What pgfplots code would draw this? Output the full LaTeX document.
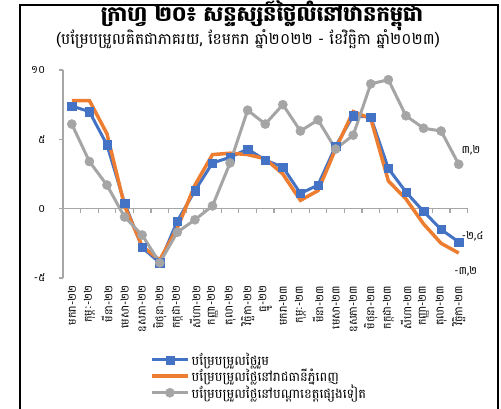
\documentclass[border=0pt]{standalone}
\usepackage{fontspec}
\setmainfont[Script=Khmer]{Battambang}
\usepackage{pgfplots}
\pgfplotsset{compat=1.18}
\definecolor{cblue}{HTML}{4472C4}
\definecolor{corange}{HTML}{ED7D31}
\definecolor{cgray}{HTML}{A5A5A5}
\definecolor{caxis}{HTML}{A6A6A6}
\begin{document}
\begin{tikzpicture}
\useasboundingbox (0pt,0pt) rectangle (501pt,408pt);
\draw[line width=1.6pt] (20pt,-5pt) -- (20pt,403pt) -- (498pt,403pt) -- (498pt,-5pt);
\node[font=\bfseries\fontsize{21}{24}\selectfont] at (262pt,392pt) {ក្រាហ្វ ២០៖ សន្ទស្សន៍ថ្លៃលំនៅឋានកម្ពុជា};
\node[font=\fontsize{15.5}{17}\selectfont] at (248pt,369pt) {(បម្រែបម្រួលគិតជាភាគរយ, ខែមករា ឆ្នាំ២០២២ - ខែវិច្ឆិកា ឆ្នាំ២០២៣)};
\begin{axis}[at={(63pt,130pt)}, anchor=south west, scale only axis,
  width=404.5pt, height=208pt,
  xmin=-0.5, xmax=22.5, ymin=-5, ymax=10,
  axis x line*=bottom, axis y line*=left,
  x axis line style={draw=none},
  y axis line style={draw=caxis, line width=1.2pt, -},
  ytick={-5,0,5,10}, yticklabels={-៥,០,៥,១០},
  y tick style={draw=caxis, line width=1.2pt},
  tick align=outside, major tick length=4pt,
  yticklabel style={font=\fontsize{11}{12}\selectfont, xshift=-10pt},
  xtick={0,...,22},
  xticklabels={មករា-២២,កុម្ភៈ-២២,មីនា-២២,មេសា-២២,ឧសភា-២២,មិថុនា-២២,កក្កដា-២២,សីហា-២២,កញ្ញា-២២,តុលា-២២,វិច្ឆិកា-២២,ធ្នូ-២២,មករា-២៣,កុម្ភៈ-២៣,មីនា-២៣,មេសា-២៣,ឧសភា-២៣,មិថុនា-២៣,កក្កដា-២៣,សីហា-២៣,កញ្ញា-២៣,តុលា-២៣,វិច្ឆិកា-២៣},
  x tick style={draw=none},
  xticklabel style={rotate=90, anchor=east, font=\fontsize{11}{12}\selectfont, yshift=0pt},
  clip=false,
  legend style={at={(0.215,-0.35)}, anchor=north west, draw=none, fill=none,
    font=\fontsize{13}{14}\selectfont, row sep=-2pt, inner sep=0pt,
    cells={anchor=west}},
  legend image code/.code={\draw[mark repeat=2,mark phase=2] plot coordinates {(0pt,0pt) (18pt,0pt) (36pt,0pt)};},
]
\draw[caxis, line width=1.2pt] (axis cs:-0.5,0) -- (axis cs:22.5,0);
\pgfplotsinvokeforeach{0,...,22}{\draw[caxis, line width=1.2pt] (axis cs:#1+0.5,0) -- ++(0pt,-4pt);}
\addplot[cblue, line width=3pt, mark=square*, mark size=4.2pt, mark options={solid, line width=0.4pt}] coordinates {
(0,7.4)(1,7.0)(2,4.6)(3,0.4)(4,-2.8)(5,-3.9)(6,-0.9)(7,1.3)(8,3.3)(9,3.7)(10,4.3)(11,3.5)(12,3.0)(13,1.1)(14,1.7)(15,4.5)(16,6.7)(17,6.6)(18,2.9)(19,1.2)(20,-0.2)(21,-1.5)(22,-2.4)};
\addlegendentry{បម្រែបម្រួលថ្លៃរួម}
\addplot[corange, line width=3.5pt, no marks] coordinates {
(0,7.8)(1,7.8)(2,5.4)(3,0.2)(4,-2.7)(5,-3.7)(6,-1.4)(7,1.7)(8,3.9)(9,4.0)(10,3.9)(11,3.6)(12,2.5)(13,0.6)(14,1.3)(15,4.3)(16,7.0)(17,6.5)(18,2.0)(19,0.7)(20,-1.1)(21,-2.5)(22,-3.2)};
\addlegendentry{បម្រែបម្រួលថ្លៃនៅរាជធានីភ្នំពេញ}
\addplot[cgray, line width=3pt, mark=*, mark size=4.6pt, mark options={line width=0.4pt}] coordinates {
(0,6.1)(1,3.4)(2,1.7)(3,-0.6)(4,-1.9)(5,-3.9)(6,-1.7)(7,-0.8)(8,0.2)(9,3.3)(10,7.1)(11,6.1)(12,7.5)(13,5.6)(14,6.4)(15,4.3)(16,5.3)(17,9.0)(18,9.3)(19,6.7)(20,5.8)(21,5.6)(22,3.2)};
\addlegendentry{បម្រែបម្រួលថ្លៃនៅបណ្តាខេត្តផ្សេងទៀត}
\node[font=\fontsize{11}{12}\selectfont] at (axis cs:22.7,4.2) {៣,២};
\node[font=\fontsize{11}{12}\selectfont] at (axis cs:22.8,-2.0) {-២,៤};
\node[font=\fontsize{11}{12}\selectfont] at (axis cs:22.4,-4.5) {-៣,២};
\end{axis}
\end{tikzpicture}
\end{document}
